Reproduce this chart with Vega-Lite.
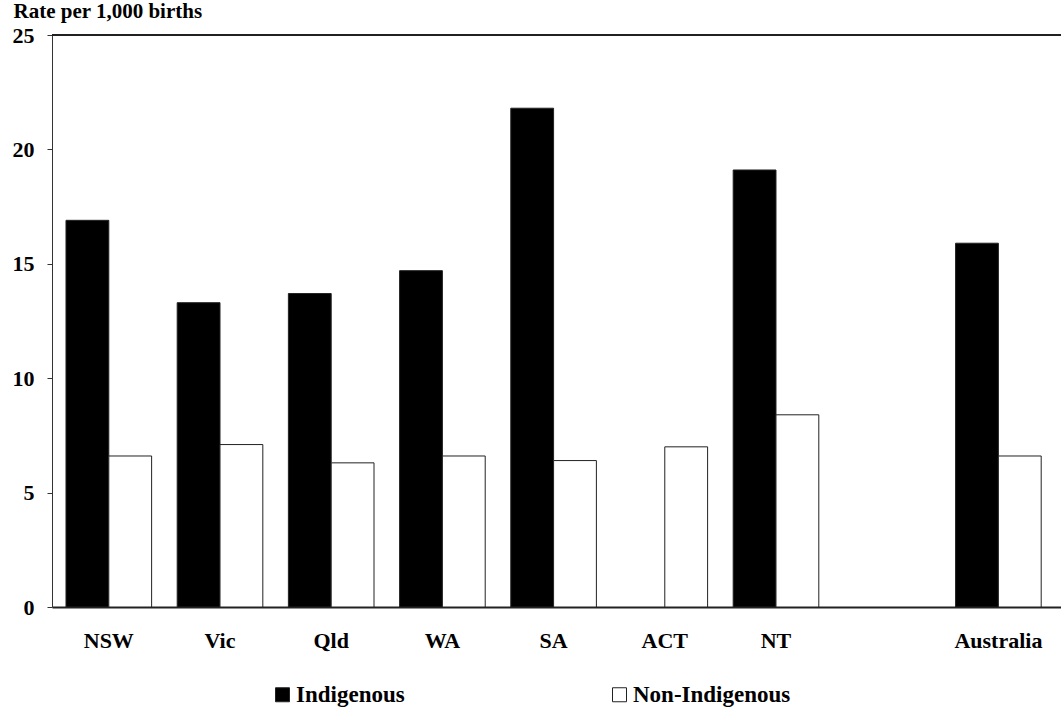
{
  "$schema": "https://vega.github.io/schema/vega-lite/v6.json",
  "width": 1009,
  "height": 572,
  "autosize": {"type": "none"},
  "padding": {"left": 52, "top": 35, "right": 0, "bottom": 102},
  "background": "white",
  "config": {
    "view": {"stroke": null},
    "font": "Liberation Serif",
    "axis": {"labelColor": "#000", "titleColor": "#000", "grid": false}
  },
  "data": {
    "values": [
      {"state": "NSW", "group": "Indigenous", "rate": 16.9},
      {"state": "NSW", "group": "Non-Indigenous", "rate": 6.6},
      {"state": "Vic", "group": "Indigenous", "rate": 13.3},
      {"state": "Vic", "group": "Non-Indigenous", "rate": 7.1},
      {"state": "Qld", "group": "Indigenous", "rate": 13.7},
      {"state": "Qld", "group": "Non-Indigenous", "rate": 6.3},
      {"state": "WA", "group": "Indigenous", "rate": 14.7},
      {"state": "WA", "group": "Non-Indigenous", "rate": 6.6},
      {"state": "SA", "group": "Indigenous", "rate": 21.8},
      {"state": "SA", "group": "Non-Indigenous", "rate": 6.4},
      {"state": "ACT", "group": "Non-Indigenous", "rate": 7.0},
      {"state": "NT", "group": "Indigenous", "rate": 19.1},
      {"state": "NT", "group": "Non-Indigenous", "rate": 8.4},
      {"state": "Australia", "group": "Indigenous", "rate": 15.9},
      {"state": "Australia", "group": "Non-Indigenous", "rate": 6.6}
    ]
  },
  "layer": [
    {
      "mark": {"type": "bar", "stroke": "#222", "strokeWidth": 1},
      "encoding": {
        "x": {
          "field": "state",
          "type": "nominal",
          "scale": {
            "domain": ["NSW", "Vic", "Qld", "WA", "SA", "ACT", "NT", " ", "Australia"],
            "paddingInner": 0.23,
            "paddingOuter": 0.152,
            "align": 0.414
          },
          "axis": {
            "title": null,
            "labelAngle": 0,
            "ticks": false,
            "labelPadding": 23,
            "labelFontSize": 22,
            "labelFontWeight": "bold",
            "domainColor": "#222",
            "domainWidth": 2
          }
        },
        "xOffset": {
          "field": "group",
          "type": "nominal",
          "scale": {"domain": ["Indigenous", "Non-Indigenous"], "paddingInner": 0, "paddingOuter": 0}
        },
        "y": {
          "field": "rate",
          "type": "quantitative",
          "scale": {"domain": [0, 25], "nice": false},
          "axis": {
            "title": "Rate per 1,000 births",
            "titleAngle": 0,
            "titleX": -39,
            "titleY": -18,
            "titleAlign": "left",
            "titleBaseline": "alphabetic",
            "titleFontSize": 21,
            "titleFontWeight": "bold",
            "values": [0, 5, 10, 15, 20, 25],
            "labelFontSize": 22,
            "labelFontWeight": "bold",
            "labelPadding": 13,
            "tickSize": 5,
            "tickColor": "#333",
            "domainColor": "#333",
            "domainWidth": 1
          }
        },
        "fill": {
          "field": "group",
          "type": "nominal",
          "scale": {"domain": ["Indigenous", "Non-Indigenous"], "range": ["#000000", "#ffffff"]},
          "legend": {
            "title": null,
            "orient": "none",
            "legendX": 219,
            "legendY": 648,
            "direction": "horizontal",
            "columns": 2,
            "columnPadding": 203,
            "padding": 0,
            "symbolType": "square",
            "symbolSize": 196,
            "symbolStrokeColor": "#222",
            "symbolStrokeWidth": 1,
            "labelOffset": 2,
            "labelFontSize": 23,
            "labelFontWeight": "bold",
            "labelColor": "#000",
            "labelFont": "Liberation Serif"
          }
        }
      }
    },
    {
      "mark": {"type": "rule", "color": "#222", "strokeWidth": 1.5},
      "encoding": {"y": {"datum": 25}}
    }
  ]
}
